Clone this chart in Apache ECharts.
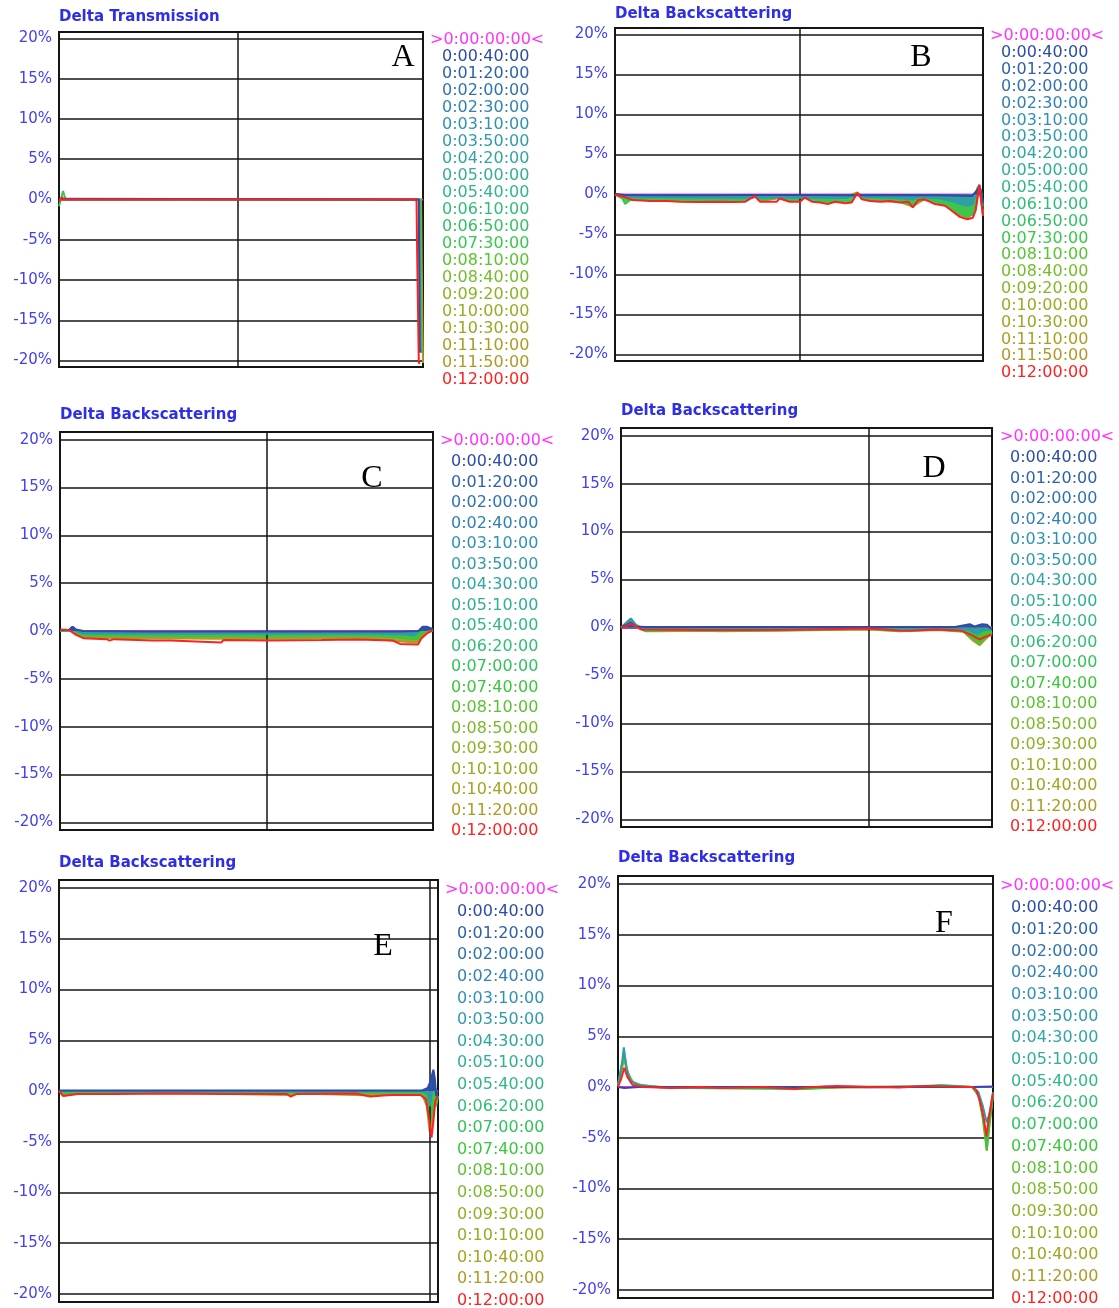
<!DOCTYPE html>
<html><head><meta charset="utf-8">
<script src="https://cdn.jsdelivr.net/npm/echarts@6/dist/echarts.min.js"></script>
<style>html,body{margin:0;padding:0;background:#fff}#c{width:1119px;height:1308px}</style>
</head><body><div id="c"></div>
<script>
// ---------- legend names (time labels) ----------
const LIST_AB = ['>0:00:00:00<','0:00:40:00','0:01:20:00','0:02:00:00','0:02:30:00','0:03:10:00','0:03:50:00','0:04:20:00','0:05:00:00','0:05:40:00','0:06:10:00','0:06:50:00','0:07:30:00','0:08:10:00','0:08:40:00','0:09:20:00','0:10:00:00','0:10:30:00','0:11:10:00','0:11:50:00','0:12:00:00'];
const LIST_CF = ['>0:00:00:00<','0:00:40:00','0:01:20:00','0:02:00:00','0:02:40:00','0:03:10:00','0:03:50:00','0:04:30:00','0:05:10:00','0:05:40:00','0:06:20:00','0:07:00:00','0:07:40:00','0:08:10:00','0:08:50:00','0:09:30:00','0:10:10:00','0:10:40:00','0:11:20:00','0:12:00:00'];
// ---------- axis ranges ----------
const Y_MIN = -20.8, Y_MAX = 20.8;
const X_MAX = {A: 40.67, B: 39.8, C: 36, D: 30, E: 20.45, F: 18};
const V_LINE = {A: [20], B: [20], C: [20], D: [20], E: [20], F: []};

// ---------- curves [position, delta %] ----------
const A_t0 = [[0,0],[40.67,0]];
const A_blue = [[0,0],[0.3,0.1],[40.2,0],[40.3,-18.8],[40.4,-19]];
const A_teal = [[0,0],[40.25,0],[40.38,-18.5],[40.48,-19]];
const A_green = [[0,-0.85],[0.25,0.2],[0.45,1.05],[0.6,0.5],[0.75,0],[40.35,0],[40.48,-18.6],[40.56,-19]];
const A_olive = [[0,0],[40.45,0],[40.56,-11],[40.67,-20.3]];
const A_red = [[0,-0.3],[0.2,-0.2],[0.35,0.3],[0.5,0],[39.9,0],[39.95,-0.3],[40.02,-6.9],[40.2,-20.3],[40.35,-20.3]];

const B_t0 = [[0,0],[39.8,0]];
const B_blue = [[0,0.1],[1,-0.05],[5,-0.1],[10,-0.1],[15,-0.05],[20,-0.05],[25,-0.1],[30,-0.05],[35,-0.1],[37.5,-0.15],[38.6,-0.2],[39.2,0.6],[39.4,1.0],[39.6,0.2],[39.8,-1.0]];
const B_teal = [[0,0],[1,-0.2],[2,-0.35],[5,-0.35],[10,-0.4],[15,-0.4],[15.1,-0.1],[15.4,-0.4],[20,-0.4],[25,-0.45],[26.2,0],[27,-0.3],[30,-0.4],[32.2,-0.6],[33,-0.3],[35,-0.5],[36.4,-0.8],[37.3,-1.2],[38.1,-1.4],[38.7,-1.2],[39.2,0.8],[39.4,1.2],[39.6,0.4],[39.8,-1.5]];
const B_green = [[0,0],[0.8,-0.5],[1.1,-1.2],[1.5,-0.8],[2,-0.6],[5,-0.65],[10,-0.75],[14.1,-0.7],[15.1,-0.05],[15.6,-0.7],[17.8,-0.35],[18.5,-0.7],[20,-0.7],[20.5,-0.3],[21.3,-0.7],[23,-0.95],[25.6,-0.8],[26.2,0.1],[26.7,-0.45],[30,-0.65],[32.2,-1.3],[32.8,-0.55],[34.6,-0.9],[35.7,-1.2],[36.4,-1.7],[37.3,-2.4],[38.1,-2.75],[38.7,-2.5],[39.0,-1.6],[39.4,1.1],[39.8,-2.2]];
const B_olive = [[0,0],[1.08,-0.3],[1.95,-0.65],[5.6,-0.75],[9.2,-0.9],[12.8,-0.9],[15.1,-0.15],[15.7,-0.85],[17.8,-0.45],[18.9,-0.85],[20.5,-0.35],[23,-1.1],[26.2,0.25],[27.6,-0.75],[30.8,-0.95],[32.2,-1.5],[33.5,-0.55],[35.7,-1.35],[37.3,-2.75],[38.1,-3.05],[39.0,-1.9],[39.4,1.2],[39.8,-2.6]];
const B_red = [[0,0],[1.08,-0.34],[1.95,-0.7],[3.8,-0.8],[5.6,-0.8],[7.0,-0.9],[9.2,-0.95],[11.4,-0.9],[12.8,-0.95],[14.1,-0.9],[15.1,-0.2],[15.7,-0.9],[17.5,-0.9],[17.8,-0.5],[18.9,-0.9],[20.0,-0.9],[20.5,-0.4],[21.3,-0.9],[22.2,-1.0],[23.0,-1.2],[23.8,-0.9],[24.9,-1.1],[25.6,-1.0],[26.2,0.2],[26.7,-0.6],[27.6,-0.8],[28.7,-0.9],[29.7,-0.8],[30.8,-1.0],[31.7,-0.9],[32.2,-1.6],[32.8,-0.7],[33.5,-0.6],[34.6,-1.2],[35.7,-1.4],[36.4,-2.0],[37.3,-2.8],[38.1,-3.1],[38.7,-2.9],[39.0,-2.0],[39.4,1.2],[39.8,-2.7]];

const C_t0 = [[0,0],[36,0]];
const C_blue = [[0,0.1],[0.86,0.1],[1.21,0.45],[1.55,0.15],[2.25,0],[8,-0.05],[15,-0.05],[20,-0.05],[25,-0.05],[30,-0.05],[33,-0.05],[34.6,0],[35.0,0.45],[35.4,0.45],[36,0.2]];
const C_teal = [[0,0.05],[0.86,0.05],[1.21,0.45],[1.55,0],[2.25,-0.25],[8,-0.3],[15,-0.3],[20,-0.3],[25,-0.3],[30,-0.3],[32.8,-0.35],[34.2,-0.45],[34.9,0.1],[35.4,0.35],[36,0.1]];
const C_green = [[0,0],[0.86,0],[1.21,0.4],[1.55,-0.2],[2.25,-0.5],[8,-0.55],[15,-0.55],[20,-0.6],[25,-0.55],[30,-0.55],[32.8,-0.7],[34.5,-0.9],[35.0,-0.2],[35.4,0.1],[36,0]];
const C_olive = [[0,0],[0.86,0],[1.21,0.2],[1.55,-0.35],[2.25,-0.7],[8,-0.75],[15,-0.8],[20,-0.8],[25,-0.75],[30,-0.75],[32.8,-1.1],[34.5,-1.2],[35.0,-0.5],[35.4,-0.1],[36,0]];
const C_red = [[0,0.15],[0.86,0.1],[1.55,-0.4],[2.25,-0.75],[4.49,-0.85],[4.8,-1.0],[5.18,-0.85],[8.98,-1.0],[10.71,-1.0],[15.55,-1.2],[15.8,-0.95],[20.04,-1.0],[25.22,-0.95],[28.68,-0.9],[32.13,-1.0],[32.82,-1.35],[34.55,-1.4],[34.89,-0.75],[35.41,-0.25],[36,0.1]];

const D_t0 = [[0,0],[30,0]];
const D_blue = [[0,0.05],[0.5,0.3],[0.8,0.5],[1.2,0.1],[2,0.05],[10,0.05],[20,0.05],[27,0.05],[28.2,0.35],[28.6,0.1],[29.2,0.35],[29.6,0.3],[30,-0.2]];
const D_teal = [[0,0],[0.5,0.6],[0.8,0.95],[1.2,0.3],[1.8,-0.15],[6,-0.15],[12,-0.15],[20,-0.1],[27.3,-0.1],[28.2,-0.3],[28.8,-0.7],[29.3,-0.3],[30,-0.2]];
const D_green = [[0,0],[0.5,0.5],[0.8,0.8],[1.3,0],[2,-0.35],[3,-0.35],[4,-0.2],[6.5,-0.3],[8,-0.35],[12,-0.3],[20,-0.15],[22.5,-0.35],[25.6,-0.2],[27.7,-0.4],[28.5,-1.2],[29.0,-1.6],[29.4,-1.1],[30,-0.5]];
const D_olive = [[0,0],[0.6,0.3],[0.8,0.6],[1.3,0],[2,-0.4],[3,-0.4],[6.5,-0.35],[8,-0.4],[12,-0.35],[20,-0.2],[22.5,-0.4],[25.6,-0.25],[27.7,-0.45],[28.5,-1.4],[29.0,-1.85],[29.4,-1.3],[30,-0.6]];
const D_red = [[0,0],[0.35,0.1],[0.78,0.4],[1.21,0.1],[1.65,-0.2],[6.55,-0.25],[12.3,-0.25],[15.2,-0.2],[20.1,-0.1],[22.4,-0.3],[23.3,-0.35],[25.6,-0.2],[27.3,-0.3],[27.65,-0.4],[28.2,-0.7],[29.0,-1.24],[29.4,-1.0],[29.8,-0.8],[30,-0.8]];

const E_t0 = [[0,0],[20.45,0]];
const E_blue = [[0,0.05],[5,0.05],[10,0.05],[15,0.05],[19.6,0.05],[19.9,0.3],[20.05,1.0],[20.2,2.1],[20.28,1.2],[20.35,-0.5],[20.45,0]];
const E_teal = [[0,0],[5,-0.05],[10,-0.05],[15,-0.05],[19.6,0],[19.9,-0.3],[20.0,-1.5],[20.1,-0.5],[20.2,1.5],[20.3,0.3],[20.45,-0.8]];
const E_green = [[0,0],[0.25,-0.3],[1,-0.15],[5,-0.15],[10,-0.15],[15,-0.15],[19.6,-0.2],[19.85,-1.0],[20.0,-3.3],[20.15,-2.0],[20.25,0.7],[20.35,-1.5],[20.45,-0.5]];
const E_olive = [[0,0],[0.25,-0.45],[1,-0.25],[6,-0.2],[12.5,-0.4],[13,-0.25],[17,-0.45],[18,-0.3],[19.6,-0.35],[19.85,-1.5],[20.0,-4.0],[20.15,-3.0],[20.3,-1.0],[20.45,-0.5]];
const E_red = [[0,0],[0.23,-0.5],[1.0,-0.3],[3,-0.3],[6,-0.25],[9,-0.3],[12.3,-0.3],[12.5,-0.55],[12.8,-0.3],[16,-0.25],[16.8,-0.55],[17.5,-0.45],[18,-0.4],[19.5,-0.4],[19.8,-0.8],[19.95,-2.5],[20.1,-4.6],[20.2,-3.0],[20.3,-1.0],[20.45,-0.5]];

const F_t0 = [[0,0],[18,0]];
const F_blue = [[0,0],[0.3,-0.1],[1,0],[5,0],[10,0],[15,0],[17,0],[18,0.05]];
const F_teal = [[0,0.2],[0.2,2.5],[0.28,3.9],[0.4,2.0],[0.6,0.6],[1,0.2],[2,0],[4,-0.1],[6,0],[8,-0.15],[10,0.05],[12,-0.05],[14,0.05],[16,0.1],[17,0],[17.3,-0.5],[17.5,-1.8],[17.7,-3.5],[17.85,-2.5],[18,-0.5]];
const F_green = [[0,0.2],[0.2,2.3],[0.3,3.3],[0.45,1.5],[0.7,0.5],[1.2,0.1],[3,-0.1],[6,-0.15],[9,-0.2],[11,0.05],[14,0],[15.5,0.2],[17,0],[17.3,-0.8],[17.5,-3.0],[17.7,-6.2],[17.85,-3.5],[18,-0.7]];
const F_olive = [[0,0.1],[0.3,2.8],[0.45,1.2],[0.8,0.3],[2,-0.05],[5,-0.1],[9,-0.15],[12,0],[15,0.1],[17,0],[17.35,-1.0],[17.6,-4.0],[17.7,-6.3],[17.8,-4.0],[18,-0.8]];
const F_red = [[0,0],[0.15,0.8],[0.3,1.9],[0.45,1.0],[0.7,0.2],[1.2,0],[2,-0.05],[2.5,-0.1],[4,0],[5,-0.1],[6,-0.05],[7,0],[8.5,-0.2],[9,-0.05],[10.5,0.1],[12,0],[13.5,-0.05],[14.8,0.1],[15.5,0.05],[16.5,0],[17,0],[17.2,-0.3],[17.4,-1.6],[17.55,-3.0],[17.69,-4.9],[17.8,-3.0],[18,-0.6]];

// ---------- styles ----------
const COLORS_AB = ['#ff33ff','#2c4ca8','#2e60ae','#3072b2','#3082b4','#3092b2','#309ca8','#30a6a0','#30ae96','#30b688','#30bc78','#32c266','#38c84c','#58c432','#74bc2a','#88b426','#98ac22','#a0a422','#a89e24','#ae9826','#ff2020'];
const COLORS_CF = ['#ff33ff','#2c4ca8','#2e60ae','#3072b2','#3082b4','#3092b2','#309ca8','#30a6a0','#30ae96','#30b688','#30be74','#32c25e','#3ac83a','#5cc232','#7aba2a','#8cb226','#9aaa22','#a2a422','#aa9c24','#ff2020'];
const LABEL_COLOR = '#4040f4', TITLE_COLOR = '#2e2ee6', LINE_COLOR = '#151515';
const FONT = 'DejaVu Sans';

const PANELS = [
  {key:'A', title:'Delta Transmission', names:LIST_AB, colors:COLORS_AB, area:false,
   curves:[['>0:00:00:00<',A_t0],['0:11:50:00',A_olive],['0:07:30:00',A_green],['0:03:50:00',A_teal],['0:00:40:00',A_blue],['0:12:00:00',A_red]],
   box:[59,32,364,335], titleXY:[59,10], letterXY:[403,58], leg1:[425,32], leg2:[437,49], gap:17},
  {key:'B', title:'Delta Backscattering', names:LIST_AB, colors:COLORS_AB, area:true,
   curves:[['>0:00:00:00<',B_t0],['0:11:50:00',B_olive],['0:07:30:00',B_green],['0:03:50:00',B_teal],['0:00:40:00',B_blue],['0:12:00:00',B_red]],
   box:[615,28,368,333], titleXY:[615,7], letterXY:[921,58], leg1:[985,28], leg2:[996,45], gap:16.85},
  {key:'C', title:'Delta Backscattering', names:LIST_CF, colors:COLORS_CF, area:true,
   curves:[['>0:00:00:00<',C_t0],['0:11:20:00',C_olive],['0:07:40:00',C_green],['0:03:50:00',C_teal],['0:00:40:00',C_blue],['0:12:00:00',C_red]],
   box:[60,432,373,398], titleXY:[60,408], letterXY:[372,479], leg1:[435,433], leg2:[446,454], gap:20.5},
  {key:'D', title:'Delta Backscattering', names:LIST_CF, colors:COLORS_CF, area:true,
   curves:[['>0:00:00:00<',D_t0],['0:11:20:00',D_olive],['0:07:40:00',D_green],['0:03:50:00',D_teal],['0:00:40:00',D_blue],['0:12:00:00',D_red]],
   box:[621,428,371,399], titleXY:[621,404], letterXY:[934,469], leg1:[995,429], leg2:[1005,450], gap:20.5},
  {key:'E', title:'Delta Backscattering', names:LIST_CF, colors:COLORS_CF, area:true,
   curves:[['>0:00:00:00<',E_t0],['0:11:20:00',E_olive],['0:07:40:00',E_green],['0:03:50:00',E_teal],['0:00:40:00',E_blue],['0:12:00:00',E_red]],
   box:[59,880,379,422], titleXY:[59,856], letterXY:[383,947], leg1:[440,882], leg2:[452,904], gap:21.6},
  {key:'F', title:'Delta Backscattering', names:LIST_CF, colors:COLORS_CF, area:false,
   curves:[['>0:00:00:00<',F_t0],['0:11:20:00',F_olive],['0:07:40:00',F_green],['0:03:50:00',F_teal],['0:00:40:00',F_blue],['0:12:00:00',F_red]],
   box:[618,876,375,422], titleXY:[618,851], letterXY:[944,924], leg1:[995,878], leg2:[1006,900], gap:21.7}
];

const option = {animation:false, backgroundColor:'#ffffff', title:[], legend:[], grid:[], xAxis:[], yAxis:[], series:[], graphic:[]};
const isTick = v => Math.abs(v/5 - Math.round(v/5)) < 1e-6;

PANELS.forEach((p, i) => {
  option.title.push({text:p.title, left:p.titleXY[0], top:p.titleXY[1], padding:0,
    textStyle:{color:TITLE_COLOR, fontSize:15, fontWeight:'bold', fontFamily:FONT}});
  option.grid.push({left:p.box[0], top:p.box[1], width:p.box[2], height:p.box[3], show:true,
    borderColor:LINE_COLOR, borderWidth:2, backgroundColor:'#fff'});
  option.xAxis.push({type:'value', gridIndex:i, min:0, max:X_MAX[p.key],
    axisLine:{show:false}, axisTick:{show:false}, axisLabel:{show:false}, splitLine:{show:false}});
  option.yAxis.push({type:'value', gridIndex:i, min:Y_MIN, max:Y_MAX, splitNumber:8,
    axisLine:{show:false}, axisTick:{show:false},
    axisLabel:{color:LABEL_COLOR, fontSize:15, fontFamily:FONT, margin:7, padding:[0,0,10,0],
      formatter: v => isTick(v) ? Math.round(v) + '%' : ''},
    splitLine:{show:true, lineStyle:{color:LINE_COLOR, width:1.5}}});
  const colorOf = n => p.colors[p.names.indexOf(n)];
  const used = new Set();
  p.curves.forEach(([name, data], k) => {
    used.add(name);
    const isRed = name === '0:12:00:00', isT0 = name === '>0:00:00:00<';
    const s = {type:'line', name, xAxisIndex:i, yAxisIndex:i, data, showSymbol:false, symbol:'none',
      color:colorOf(name), lineStyle:{width:2, color:colorOf(name)}, z:2+k};
    if (p.area && !isRed && !isT0) s.areaStyle = {color:colorOf(name), opacity:0.95, origin:0};
    if (isT0 && V_LINE[p.key].length) {
      s.markLine = {silent:true, symbol:'none', label:{show:false}, animation:false,
        lineStyle:{color:LINE_COLOR, width:1.5, type:'solid'},
        data:V_LINE[p.key].map(v => ({xAxis:v}))};
    }
    option.series.push(s);
  });
  p.names.forEach(n => {
    if (!used.has(n)) option.series.push({type:'line', name:n, xAxisIndex:i, yAxisIndex:i, data:[], showSymbol:false, color:colorOf(n)});
  });
  const legBase = {orient:'vertical', icon:'none', itemWidth:0, itemHeight:16, padding:0, selectedMode:false,
    height:600, textStyle:{fontSize:16, fontFamily:FONT, lineHeight:16}};
  option.legend.push(Object.assign({}, legBase, {left:p.leg1[0], top:p.leg1[1],
    data:[{name:p.names[0], textStyle:{color:p.colors[0]}}]}));
  option.legend.push(Object.assign({}, legBase, {left:p.leg2[0], top:p.leg2[1], itemGap:p.gap - 16,
    data:p.names.slice(1).map((n, j) => ({name:n, textStyle:{color:p.colors[j+1]}}))}));
  option.graphic.push({type:'text', x:p.letterXY[0], y:p.letterXY[1], z:100,
    style:{text:p.key, fontSize:32, fontFamily:'Liberation Serif', fill:'#000', align:'center', verticalAlign:'middle'}});
});

const chart = echarts.init(document.getElementById('c'), null, {renderer:'canvas'});
chart.setOption(option);
</script></body></html>
